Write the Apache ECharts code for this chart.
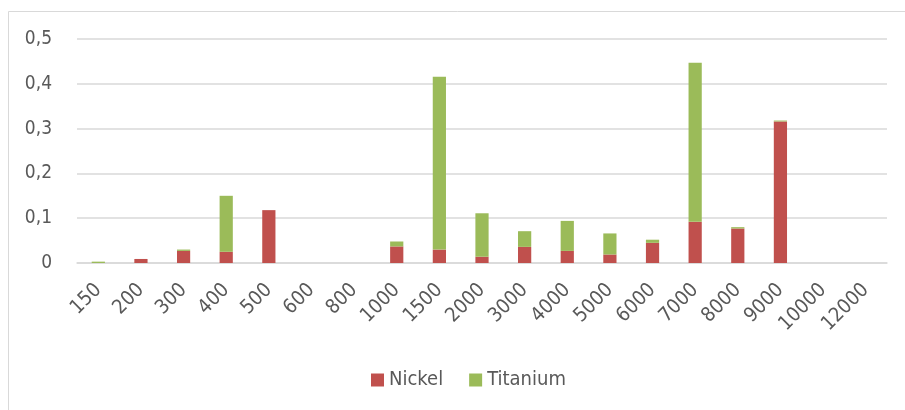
<!DOCTYPE html>
<html>
<head>
<meta charset="utf-8">
<script src="https://cdn.jsdelivr.net/npm/echarts@6/dist/echarts.min.js"></script>
<style>
  html, body { margin: 0; padding: 0; background: #fff; }
  #chart { width: 905px; height: 410px; }
</style>
</head>
<body>
<div id="chart"></div>
<script>
// Frequency categories (x axis)
const categories = ['150', '200', '300', '400', '500', '600', '800', '1000', '1500', '2000',
  '3000', '4000', '5000', '6000', '7000', '8000', '9000', '10000', '12000'];

// Stacked contributions per material
const nickel = [0, 0.009, 0.027, 0.025, 0.118, 0, 0, 0.037, 0.030, 0.014,
  0.036, 0.027, 0.019, 0.045, 0.092, 0.077, 0.316, 0, 0];
const titanium = [0.003, 0, 0.003, 0.125, 0, 0, 0, 0.011, 0.386, 0.097,
  0.035, 0.067, 0.047, 0.007, 0.355, 0.003, 0.002, 0, 0];

// Y axis tick values
const yTicks = [0, 0.1, 0.2, 0.3, 0.4, 0.5];

const textColor = '#595959';
const fontFamily = '"Liberation Sans Narrow", "DejaVu Sans Condensed", sans-serif';

const chart = echarts.init(document.getElementById('chart'), null, { renderer: 'canvas' });

// zero values are left out so no empty segments are drawn
const asBars = arr => arr.map(v => (v === 0 ? '-' : v));

chart.setOption({
  animation: false,
  backgroundColor: '#ffffff',
  graphic: [{
    type: 'rect',
    shape: { x: 8.5, y: 11.5, width: 920, height: 420 },
    style: { fill: 'none', stroke: '#d9d9d9', lineWidth: 1 },
    silent: true
  }],
  grid: { left: 77, right: 18, top: 39, bottom: 147, containLabel: false },
  legend: {
    bottom: 15,
    left: 366,
    itemWidth: 13,
    itemHeight: 13,
    itemGap: 26,
    icon: 'rect',
    textStyle: { color: textColor, fontSize: 20, fontFamily: fontFamily },
    data: ['Nickel', 'Titanium']
  },
  xAxis: {
    type: 'category',
    data: categories,
    axisLine: { lineStyle: { color: '#d9d9d9', width: 1.5 } },
    axisTick: { show: false },
    axisLabel: {
      rotate: 45,
      interval: 0,
      color: textColor,
      fontSize: 20,
      fontFamily: fontFamily,
      margin: 24
    }
  },
  yAxis: {
    type: 'value',
    min: yTicks[0],
    max: yTicks[yTicks.length - 1],
    interval: 0.1,
    axisLine: { show: false },
    axisTick: { show: false },
    splitLine: { lineStyle: { color: '#d9d9d9', width: 1.5 } },
    axisLabel: {
      color: textColor,
      fontSize: 19,
      fontFamily: fontFamily,
      margin: 25,
      formatter: v => String(Math.round(v * 10) / 10).replace('.', ',')
    }
  },
  series: [
    {
      name: 'Nickel',
      type: 'bar',
      stack: 'total',
      data: asBars(nickel),
      barWidth: '31%',
      itemStyle: { color: '#C0504D' }
    },
    {
      name: 'Titanium',
      type: 'bar',
      stack: 'total',
      data: asBars(titanium),
      barWidth: '31%',
      itemStyle: { color: '#9BBB59' }
    }
  ]
});
</script>
</body>
</html>
